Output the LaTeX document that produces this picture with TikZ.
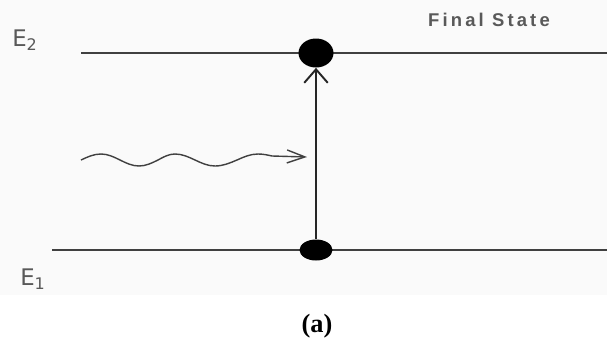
\documentclass[tikz,border=0pt]{standalone}
\usepackage{fontspec}
\setmainfont{Liberation Serif}
\setsansfont{DejaVu Sans}
\newfontfamily\labelfont{Liberation Sans}
\usetikzlibrary{arrows.meta, positioning, shapes.geometric}

\begin{document}
\begin{tikzpicture}[x=0.2mm,y=-0.2mm,
    level/.style={line width=0.8pt,black!75},
    dot/.style={ellipse,fill=black,inner sep=0pt},
    lbl/.style={font=\sffamily\fontsize{13}{14}\selectfont,text=black!65},
    >={Straight Barb[length=2.7mm,width=4.7mm]}]
    \useasboundingbox (0,0) rectangle (607,351);
    \fill[black!2] (0,0) rectangle (607,295);

    % Energy levels
    \coordinate (E2left) at (81,53);
    \coordinate (E2right) at (607,53);
    \coordinate (E1left) at (52,250);
    \coordinate (E1right) at (607,250);
    \draw[level] (E2left) -- (E2right);
    \draw[level] (E1left) -- (E1right);

    % Electron before and after
    \node[dot,minimum width=7mm,minimum height=5.8mm] (upper) at (316,53) {};
    \node[dot,minimum width=6.6mm,minimum height=4.2mm] (lower) at (316,250) {};

    % Labels
    \node[lbl] (E2) at (25,40) {E\textsubscript{2}};
    \node[lbl] (E1) at (33,279) {E\textsubscript{1}};
    \node[font=\labelfont\bfseries\fontsize{10.5}{12}\selectfont,text=black!65] (final) at (489,20)
        {\addfontfeature{LetterSpace=17}Final State};
    \node[font=\bfseries\fontsize{15}{18}\selectfont] (caption) at (317,326) {(a)};

    % Absorption
    \draw[->,line width=1.1pt,black!85] (lower) -- (upper);

    % Incoming photon
    \coordinate (wavestart) at (81,160);
    \coordinate (waveend) at (307,157);
    \draw[line width=0.8pt,black!75,-{Straight Barb[length=3.6mm,width=2.6mm]}]
        (wavestart) sin (101,154) cos (120,160) sin (139,166) cos (158,160)
        sin (175,154) cos (195,160) sin (215,166) cos (237,160)
        sin (258,154) cos (272,156) -- (waveend);
\end{tikzpicture}
\end{document}
